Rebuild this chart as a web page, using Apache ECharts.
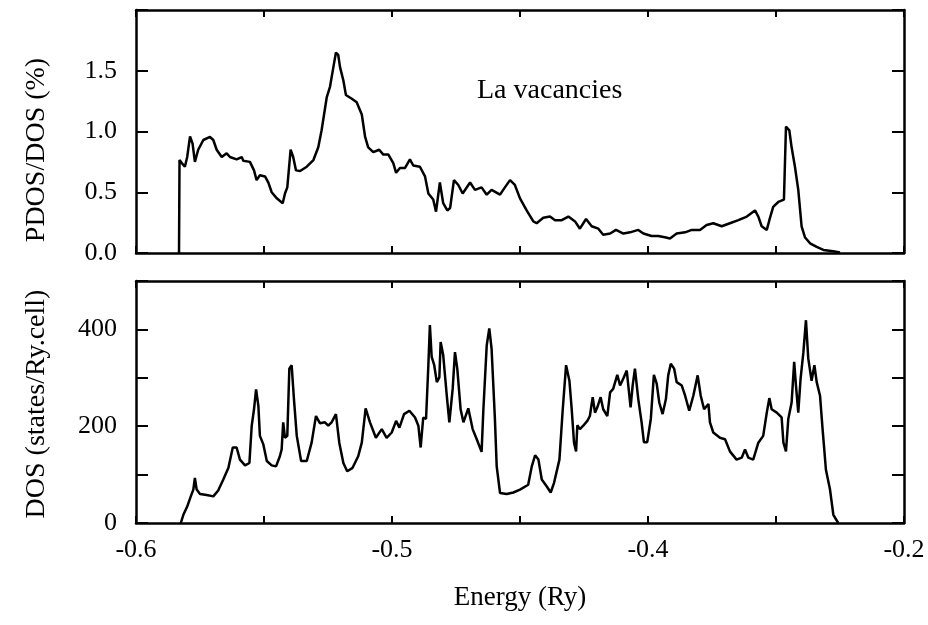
<!DOCTYPE html>
<html>
<head>
<meta charset="utf-8">
<script src="https://cdn.jsdelivr.net/npm/echarts@6/dist/echarts.min.js"></script>
<style>
  html, body { margin: 0; padding: 0; background: #fff; }
  #chart { width: 928px; height: 625px; }
</style>
</head>
<body>
<div id="chart"></div>
<script>
// energy (Ry) and PDOS/DOS (%) for the La vacancies
const pdosE = [-0.5832, -0.5830, -0.5821, -0.5809, -0.5800, -0.5789, -0.5779, -0.5770, -0.5757, -0.5737,
  -0.5711, -0.5698, -0.5685, -0.5665, -0.5646, -0.5633, -0.5607, -0.5587, -0.5581, -0.5555,
  -0.5539, -0.5529, -0.5516, -0.5496, -0.5483, -0.5470, -0.5450, -0.5427, -0.5418, -0.5409,
  -0.5396, -0.5386, -0.5375, -0.5359, -0.5333, -0.5307, -0.5288, -0.5275, -0.5255, -0.5242,
  -0.5229, -0.5219, -0.5210, -0.5203, -0.5190, -0.5180, -0.5157, -0.5138, -0.5118, -0.5105,
  -0.5093, -0.5073, -0.5050, -0.5034, -0.5014, -0.4995, -0.4984, -0.4969, -0.4949, -0.4930,
  -0.4917, -0.4891, -0.4871, -0.4858, -0.4839, -0.4828, -0.4813, -0.4800, -0.4784, -0.4773,
  -0.4758, -0.4741, -0.4724, -0.4695, -0.4676, -0.4650, -0.4630, -0.4611, -0.4578, -0.4559,
  -0.4539, -0.4520, -0.4500, -0.4474, -0.4448, -0.4435, -0.4409, -0.4383, -0.4363, -0.4337,
  -0.4311, -0.4285, -0.4266, -0.4242, -0.4220, -0.4194, -0.4175, -0.4148, -0.4125, -0.4096,
  -0.4070, -0.4038, -0.4018, -0.3986, -0.3960, -0.3934, -0.3914, -0.3888, -0.3855, -0.3829,
  -0.3797, -0.3771, -0.3745, -0.3712, -0.3680, -0.3647, -0.3614, -0.3582, -0.3569, -0.3556,
  -0.3536, -0.3526, -0.3511, -0.3491, -0.3469, -0.3461, -0.3448, -0.3439, -0.3426, -0.3413,
  -0.3400, -0.3387, -0.3367, -0.3341, -0.3315, -0.3276, -0.3250];
const pdosVal = [0, 0.765, 0.74, 0.71, 0.79, 0.96, 0.90, 0.75, 0.85, 0.93,
  0.955, 0.93, 0.85, 0.79, 0.82, 0.79, 0.77, 0.79, 0.76, 0.75,
  0.68, 0.60, 0.64, 0.63, 0.58, 0.50, 0.45, 0.41, 0.49, 0.54,
  0.85, 0.79, 0.68, 0.675, 0.71, 0.765, 0.87, 1.01, 1.28, 1.37,
  1.53, 1.65, 1.63, 1.53, 1.42, 1.30, 1.27, 1.24, 1.14, 0.955,
  0.87, 0.83, 0.85, 0.81, 0.81, 0.74, 0.66, 0.70, 0.70, 0.77,
  0.72, 0.71, 0.63, 0.49, 0.44, 0.34, 0.58, 0.41, 0.35, 0.37,
  0.60, 0.56, 0.49, 0.58, 0.52, 0.54, 0.48, 0.52, 0.48, 0.54,
  0.60, 0.56, 0.45, 0.35, 0.26, 0.245, 0.29, 0.30, 0.27, 0.27,
  0.30, 0.26, 0.20, 0.28, 0.22, 0.20, 0.15, 0.16, 0.19, 0.16,
  0.17, 0.19, 0.16, 0.14, 0.14, 0.13, 0.12, 0.16, 0.17, 0.19,
  0.19, 0.23, 0.245, 0.22, 0.245, 0.27, 0.30, 0.35, 0.30, 0.22,
  0.19, 0.27, 0.38, 0.42, 0.44, 1.04, 1.01, 0.87, 0.71, 0.52,
  0.22, 0.13, 0.08, 0.05, 0.025, 0.015, 0.005];

// energy (Ry) and DOS (states/Ry.cell)
const dosE = [-0.5825, -0.5815, -0.5800, -0.5786, -0.5776, -0.5770, -0.5763, -0.5750, -0.5724, -0.5698,
  -0.5679, -0.5659, -0.5639, -0.5622, -0.5607, -0.5594, -0.5574, -0.5557, -0.5548, -0.5539,
  -0.5531, -0.5522, -0.5516, -0.5503, -0.5489, -0.5470, -0.5453, -0.5438, -0.5431, -0.5425,
  -0.5418, -0.5409, -0.5401, -0.5392, -0.5383, -0.5372, -0.5355, -0.5333, -0.5314, -0.5297,
  -0.5281, -0.5262, -0.5249, -0.5236, -0.5219, -0.5206, -0.5190, -0.5175, -0.5154, -0.5132,
  -0.5118, -0.5103, -0.5086, -0.5063, -0.5040, -0.5021, -0.5001, -0.4984, -0.4971, -0.4953,
  -0.4932, -0.4910, -0.4897, -0.4888, -0.4878, -0.4867, -0.4858, -0.4852, -0.4845, -0.4835,
  -0.4825, -0.4815, -0.4810, -0.4800, -0.4786, -0.4776, -0.4763, -0.4754, -0.4745, -0.4732,
  -0.4721, -0.4702, -0.4685, -0.4669, -0.4650, -0.4643, -0.4630, -0.4620, -0.4611, -0.4598,
  -0.4591, -0.4578, -0.4552, -0.4526, -0.4500, -0.4468, -0.4454, -0.4441, -0.4428, -0.4415,
  -0.4396, -0.4380, -0.4367, -0.4346, -0.4333, -0.4320, -0.4307, -0.4298, -0.4289, -0.4281,
  -0.4276, -0.4266, -0.4253, -0.4237, -0.4227, -0.4216, -0.4207, -0.4198, -0.4185, -0.4175,
  -0.4159, -0.4148, -0.4136, -0.4120, -0.4109, -0.4096, -0.4083, -0.4068, -0.4060, -0.4051,
  -0.4038, -0.4025, -0.4016, -0.4003, -0.3989, -0.3977, -0.3966, -0.3956, -0.3943, -0.3930,
  -0.3921, -0.3911, -0.3898, -0.3888, -0.3868, -0.3855, -0.3839, -0.3823, -0.3806, -0.3794,
  -0.3781, -0.3764, -0.3758, -0.3745, -0.3719, -0.3699, -0.3680, -0.3654, -0.3634, -0.3621,
  -0.3608, -0.3589, -0.3569, -0.3550, -0.3536, -0.3526, -0.3517, -0.3497, -0.3478, -0.3471,
  -0.3461, -0.3452, -0.3439, -0.3429, -0.3422, -0.3413, -0.3404, -0.3393, -0.3383, -0.3374,
  -0.3361, -0.3350, -0.3341, -0.3328, -0.3318, -0.3305, -0.3289, -0.3276, -0.3257];
const dosVal = [0, 17, 34, 55, 69, 93, 69, 60, 58, 55,
  67, 90, 114, 156, 156, 131, 119, 124, 201, 235,
  276, 242, 180, 163, 128, 119, 117, 138, 152, 208,
  176, 180, 319, 326, 256, 180, 128, 128, 166, 221,
  206, 208, 201, 208, 225, 166, 124, 107, 114, 138,
  166, 237, 208, 176, 194, 176, 187, 211, 197, 225,
  232, 218, 201, 156, 218, 215, 326, 409, 343, 326,
  291, 301, 374, 347, 263, 208, 277, 353, 319, 235,
  208, 237, 194, 173, 147, 235, 367, 402, 360, 215,
  117, 62, 60, 63, 69, 79, 117, 140, 131, 90,
  76, 63, 83, 131, 235, 326, 294, 235, 166, 148,
  202, 194, 201, 211, 221, 260, 228, 239, 260, 235,
  221, 270, 277, 306, 284, 299, 315, 239, 284, 319,
  256, 208, 167, 167, 215, 306, 288, 249, 225, 256,
  305, 329, 319, 291, 284, 263, 232, 263, 305, 263,
  235, 246, 208, 187, 176, 173, 148, 131, 135, 152,
  135, 131, 166, 180, 228, 258, 235, 228, 218, 166,
  148, 215, 249, 333, 284, 228, 298, 353, 419, 340,
  294, 326, 291, 263, 194, 110, 69, 17, 0];

// tick labels as printed on the figure
const xTickValues = [-0.6, -0.5, -0.4, -0.3];
const xTickText = ['-0.6', '-0.5', '-0.4', '-0.2'];
const pdosTickValues = [0, 0.5, 1.0, 1.5];
const pdosTickText = ['0.0', '0.5', '1.0', '1.5'];
const dosTickValues = [0, 200, 400];
const dosTickText = ['0', '200', '400'];

const FONT = 'Liberation Serif';

function pickLabel(values, texts) {
  return function (v) {
    for (let i = 0; i < values.length; i++) {
      if (Math.abs(v - values[i]) < 1e-6) return texts[i];
    }
    return '';
  };
}

function xAx(grid, pos, labels) {
  return {
    type: 'value', gridIndex: grid, position: pos,
    min: -0.6, max: -0.3, interval: 0.05,
    axisLine: { show: true, onZero: false, lineStyle: { color: '#000', width: 2.5 } },
    axisTick: { show: true, inside: true, length: 7, lineStyle: { color: '#000', width: 2 } },
    axisLabel: {
      show: labels, margin: 14, showMinLabel: true, showMaxLabel: true,
      color: '#000', fontFamily: FONT, fontSize: 26,
      formatter: pickLabel(xTickValues, xTickText)
    },
    splitLine: { show: false }
  };
}

function yAx(grid, pos, max, interval, labels, vals, texts) {
  return {
    type: 'value', gridIndex: grid, position: pos,
    min: 0, max: max, interval: interval,
    axisLine: { show: true, onZero: false, lineStyle: { color: '#000', width: 2.5 } },
    axisTick: { show: true, inside: true, length: 12, lineStyle: { color: '#000', width: 2 } },
    axisLabel: {
      show: labels, margin: 19, showMinLabel: true, showMaxLabel: true,
      color: '#000', fontFamily: FONT, fontSize: 26,
      formatter: pickLabel(vals || [], texts || [])
    },
    splitLine: { show: false }
  };
}

const chart = echarts.init(document.getElementById('chart'), null, { renderer: 'canvas' });

const pdosData = pdosE.map((e, i) => [e, pdosVal[i]]);
const dosData = dosE.map((e, i) => [e, dosVal[i]]);

chart.setOption({
  animation: false,
  backgroundColor: '#fff',
  grid: [
    { left: 136, right: 24, top: 10, height: 243 },
    { left: 136, right: 24, top: 281, height: 242 }
  ],
  xAxis: [
    xAx(0, 'bottom', false),
    xAx(0, 'top', false),
    Object.assign(xAx(1, 'bottom', true), {
      name: 'Energy (Ry)', nameLocation: 'middle', nameGap: 61,
      nameTextStyle: { color: '#000', fontFamily: FONT, fontSize: 27 }
    }),
    xAx(1, 'top', false)
  ],
  yAxis: [
    yAx(0, 'left', 2, 0.5, true, pdosTickValues, pdosTickText),
    yAx(0, 'right', 2, 0.5, false),
    yAx(1, 'left', 500, 100, true, dosTickValues, dosTickText),
    yAx(1, 'right', 500, 100, false)
  ],
  graphic: [
    {
      type: 'text', x: 37, y: 150, rotation: Math.PI / 2,
      style: { text: 'PDOS/DOS (%)', fill: '#000', font: '28px "Liberation Serif"',
               align: 'center', verticalAlign: 'middle' }
    },
    {
      type: 'text', x: 37, y: 404, rotation: Math.PI / 2,
      style: { text: 'DOS (states/Ry.cell)', fill: '#000', font: '28px "Liberation Serif"',
               align: 'center', verticalAlign: 'middle' }
    },
    {
      type: 'text', x: 477, y: 91,
      style: { text: 'La vacancies', fill: '#000', font: '28px "Liberation Serif"',
               align: 'left', verticalAlign: 'middle' }
    }
  ],
  series: [
    {
      type: 'line', xAxisIndex: 0, yAxisIndex: 0, data: pdosData,
      showSymbol: false, lineStyle: { color: '#000', width: 2.5 }
    },
    {
      type: 'line', xAxisIndex: 2, yAxisIndex: 2, data: dosData,
      showSymbol: false, lineStyle: { color: '#000', width: 2.5 }
    }
  ]
});
</script>
</body>
</html>
